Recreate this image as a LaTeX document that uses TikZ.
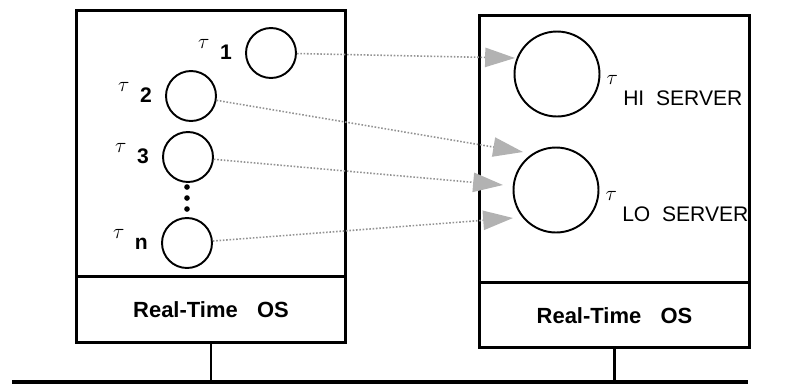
\documentclass[tikz,border=0pt]{standalone}
\usepackage{fontspec}
\setmainfont{Liberation Sans}
\usetikzlibrary{positioning, arrows.meta}

\newcommand{\tasklabel}[1]{$\tau$\hspace{6pt}\raisebox{-6pt}{\bfseries #1}}
\newcommand{\serverlabel}[1]{\raisebox{12pt}{$\tau$}\hspace{3pt}#1}

\begin{document}
\begin{tikzpicture}[ 
			x=0.02cm, 
			y=-0.02cm, 
			font=\fontsize{12}{14}\selectfont, 
			hostbox/.style={ 
				draw=black, 
				rectangle, 
				line width=1.7pt, 
				outer sep=0pt, 
				minimum width=5.4cm 
			}, 
			osbox/.style={ 
				hostbox, 
				font=\fontsize{12.5}{14}\selectfont\bfseries 
			}, 
			task/.style={ 
				draw=black, 
				circle, 
				line width=1.1pt, 
				minimum size=1cm 
			}, 
			server/.style={ 
				draw=black, 
				circle, 
				line width=1.1pt, 
				minimum size=1.7cm 
			}, 
			flow/.style={ 
				draw=gray!85, 
				densely dotted, 
				line width=0.9pt, 
				-{Triangle[length=17pt, width=11pt, color=gray!60]} 
			} 
			] 
			\useasboundingbox (0,0) rectangle (809,387);
			% Hosts 
			\node[hostbox, minimum height=5.34cm] (app1) at (211,143.5) {};
			\node[osbox, minimum height=1.32cm, anchor=north] (os1) at (app1.south) {Real-Time\hspace{11pt}OS};
			\node[hostbox, minimum height=5.36cm] (app2) at (614.5,149) {};
			\node[osbox, minimum height=1.3cm, anchor=north] (os2) at (app2.south) {Real-Time\hspace{11pt}OS};
			% Tasks 
			\node[task] (t1) at (271,53) {};
			\node[task] (t2) at (191,96) {};
			\node[task] (t3) at (188,157) {};
			\node[task] (tn) at (187,243) {};
			\node[left=4pt of t1, yshift=2pt] (l1) {\tasklabel{1}};
			\node[left=4pt of t2, yshift=2pt] (l2) {\tasklabel{2}};
			\node[left=4pt of t3, yshift=2pt] (l3) {\tasklabel{3}};
			\node[left=4pt of tn, yshift=2pt] (ln) {\tasklabel{n}};
			\foreach \y in {187,198,209}
				\fill (187,\y) circle (1.6pt);
			% Servers 
			\node[server] (hi) at (557,74) {};
			\node[server] (lo) at (556,190) {};
			\node[right=0pt of hi, yshift=-9.5pt] (lhi) {\serverlabel{HI\ \ SERVER}};
			\node[right=0pt of lo, yshift=-9.5pt] (llo) {\serverlabel{LO\ \ SERVER}};
			% Requests 
			\coordinate (a1) at (515,58);
			\coordinate (a2) at (523,152);
			\coordinate (a3) at (503,185);
			\coordinate (an) at (513,218);
			\draw[flow] (t1) -- (a1);
			\draw[flow] (t2) -- (a2);
			\draw[flow] (t3) -- (a3);
			\draw[flow] (tn) -- (an);
			% Network 
			\coordinate (busW) at (12,382);
			\coordinate (busE) at (748,382);
			\draw[line width=2.2pt] (busW) -- (busE);
			\draw[line width=1.5pt] (os1.south) -- (os1.south |- busW);
			\draw[line width=1.5pt] (os2.south) -- (os2.south |- busW);
		\end{tikzpicture}
\end{document}
